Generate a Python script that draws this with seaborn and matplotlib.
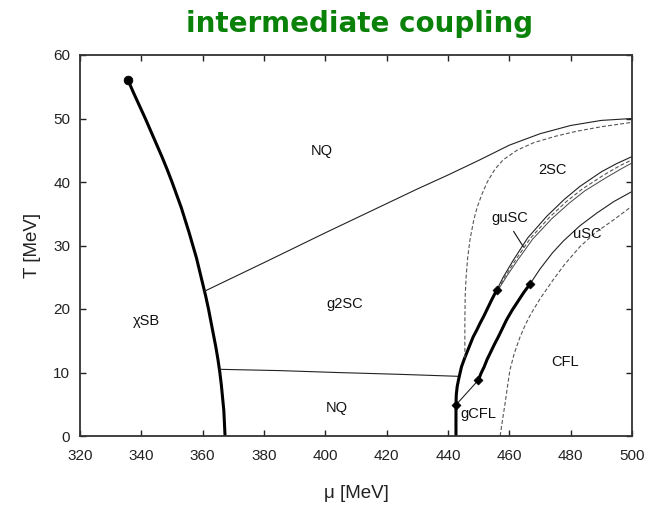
import matplotlib
matplotlib.use("Agg")
import matplotlib.pyplot as plt
import seaborn as sns
import pandas as pd

# Chiral symmetry breaking boundary (first order, ends at critical point)
chsb_mu = [335.7, 337.5, 339.4, 341.3, 343.1, 344.9, 346.7, 348.4, 350.0, 351.5,
           353.0, 354.3, 355.6, 356.8, 358.0, 359.0, 360.0, 361.0, 361.9, 362.7,
           363.5, 364.3, 365.0, 365.6, 366.1, 366.5, 366.9, 367.1, 367.3]
chsb_T = [56.0, 54.0, 52.0, 50.0, 48.0, 46.0, 44.0, 42.0, 40.0, 38.0,
          36.0, 34.0, 32.0, 30.0, 28.0, 26.0, 24.0, 22.0, 20.0, 18.0,
          16.0, 14.0, 12.0, 10.0, 8.0, 6.0, 4.0, 2.0, 0.0]

# NQ / g2SC upper boundary
nq_up_mu = [360.6, 380.0, 400.0, 420.0, 430.0, 440.0, 450.0, 460.0, 470.0, 480.0, 490.0, 500.0]
nq_up_T = [22.8, 27.3, 32.0, 36.6, 38.9, 41.1, 43.4, 45.8, 47.6, 48.9, 49.7, 50.0]

# g2SC / NQ lower boundary
nq_lo_mu = [365.6, 385.0, 403.7, 425.0, 443.3]
nq_lo_T = [10.5, 10.3, 10.0, 9.7, 9.4]

# gCFL boundary (first order part)
gcfl_a_mu = [442.6, 442.6, 442.7, 443.0, 443.5, 444.4, 445.3, 446.2, 447.2, 448.2,
             449.4, 450.5, 451.6, 452.6, 454.2, 455.9]
gcfl_a_T = [0.0, 4.9, 6.5, 7.8, 9.0, 10.9, 12.1, 13.2, 14.4, 15.6,
            16.7, 17.8, 18.8, 19.8, 21.4, 23.0]

# thin link between the two gCFL critical points
gcfl_link_mu = [442.6, 449.9]
gcfl_link_T = [4.9, 8.8]

# second first-order line
gcfl_b_mu = [449.9, 450.8, 451.8, 452.7, 453.7, 455.1, 456.5, 457.8, 459.1, 460.9,
             462.8, 464.7, 466.7]
gcfl_b_T = [8.8, 9.9, 10.9, 12.0, 13.0, 14.4, 15.7, 17.0, 18.3, 19.8,
            21.2, 22.6, 23.9]

# continuation lines (second order)
su_mu = [455.9, 458.0, 461.3, 466.0, 472.2, 478.0, 483.0, 490.0, 495.0, 500.0]
su_T = [23.0, 25.0, 27.7, 31.2, 34.6, 37.3, 39.3, 41.6, 42.9, 44.0]
sd_mu = [456.3, 458.6, 462.0, 466.8, 473.0, 478.8, 483.8, 490.8, 495.8, 500.0]
sd_T = [23.1, 25.1, 27.7, 31.1, 34.4, 37.0, 38.9, 41.1, 42.5, 43.5]
si_mu = [456.6, 459.2, 462.7, 467.6, 473.8, 479.6, 484.6, 491.6, 496.6, 500.0]
si_T = [23.2, 25.2, 27.7, 31.0, 34.2, 36.7, 38.6, 40.7, 42.1, 43.0]

usc_mu = [466.7, 470.0, 474.0, 477.6, 483.0, 488.5, 494.0, 500.0]
usc_T = [23.9, 26.3, 28.8, 30.7, 33.1, 35.1, 36.9, 38.5]

# 2SC boundary (dashed)
d2sc_mu = [445.5, 445.5, 445.6, 445.9, 446.4, 447.2, 448.4, 449.5, 451.0, 452.8,
           455.3, 458.0, 462.5, 468.0, 475.0, 482.0, 490.0, 500.0]
d2sc_T = [12.3, 18.0, 22.0, 25.0, 28.0, 31.0, 34.0, 36.0, 38.0, 40.0,
          42.0, 43.5, 45.0, 46.2, 47.2, 48.0, 48.7, 49.4]

# CFL boundary (dashed)
dcfl_mu = [457.0, 457.8, 458.6, 459.4, 460.2, 461.6, 463.5, 465.2, 467.0, 470.0,
           474.3, 478.0, 483.0, 488.0, 493.9, 500.0]
dcfl_T = [0.0, 2.6, 5.1, 7.8, 10.4, 13.0, 15.6, 17.5, 19.2, 21.6,
          24.6, 27.0, 29.8, 32.0, 34.0, 36.2]

# markers
crit_mu = [335.7]
crit_T = [56.0]
diam_mu = [442.6, 449.9, 455.9, 466.7]
diam_T = [4.9, 8.8, 23.0, 23.9]

# phase labels
phase_names = ["NQ", "2SC", "guSC", "uSC", "g2SC", "\u03c7SB", "NQ", "CFL", "gCFL"]
phase_mu = [398.9, 474.2, 460.2, 485.3, 406.4, 341.5, 403.8, 478.1, 449.8]
phase_T = [44.9, 41.9, 34.3, 31.8, 20.8, 18.1, 4.4, 11.7, 3.5]

sns.set_theme(style="ticks")
plt.rcParams["font.family"] = ["Liberation Sans", "DejaVu Sans"]

fig = plt.figure(figsize=(6.48, 5.05), dpi=100)
ax = fig.add_axes([80 / 648, 1 - 436 / 505, 552 / 648, 381 / 505])


def curve(mu, T, **kw):
    df = pd.DataFrame({"mu": mu, "T": T})
    sns.lineplot(data=df, x="mu", y="T", sort=False, estimator=None, ax=ax, **kw)


thick = dict(color="black", linewidth=2.2)
thin = dict(color="#222222", linewidth=0.8)
dash = dict(color="#555555", linewidth=0.8, dashes=(3.5, 2.0))

curve(chsb_mu, chsb_T, **thick)
curve(nq_up_mu, nq_up_T, **thin)
curve(nq_lo_mu, nq_lo_T, **thin)
curve(gcfl_a_mu, gcfl_a_T, **thick)
curve(gcfl_link_mu, gcfl_link_T, **thin)
curve(gcfl_b_mu, gcfl_b_T, **thick)
curve(su_mu, su_T, **thin)
curve(sd_mu, sd_T, **dash)
curve(si_mu, si_T, color="#444444", linewidth=0.7)
curve(usc_mu, usc_T, **thin)
curve(d2sc_mu, d2sc_T, **dash)
curve(dcfl_mu, dcfl_T, **dash)

sns.scatterplot(x=crit_mu, y=crit_T, ax=ax, color="black", s=40, marker="o",
                edgecolor="black", zorder=5)
sns.scatterplot(x=diam_mu, y=diam_T, ax=ax, color="black", s=22, marker="D",
                edgecolor="black", zorder=5)

for name, m, t in zip(phase_names, phase_mu, phase_T):
    ax.text(m, t, name, ha="center", va="center", fontsize=10.5, color="#111111")

# leader for the narrow guSC sliver
ax.annotate("", xy=(465.1, 29.4), xytext=(460.9, 32.6),
            arrowprops=dict(arrowstyle="-", color="#111111", lw=0.8))

ax.set_xlim(320, 500)
ax.set_ylim(0, 60)
ax.set_xticks(range(320, 501, 20))
ax.set_yticks(range(0, 61, 10))
ax.tick_params(direction="in", length=4, width=1, top=True, right=True,
               labelsize=11, colors="#222222")
ax.tick_params(axis="x", pad=9)
ax.tick_params(axis="y", pad=7)
for s in ax.spines.values():
    s.set_linewidth(1.3)
    s.set_color("#333333")
    s.set_visible(True)
ax.set_xlabel("\u03bc [MeV]", fontsize=13.5, color="#222222", labelpad=16)
ax.set_ylabel("T [MeV]", fontsize=13.5, color="#222222", labelpad=9)

fig.text(0.555, 0.952, "intermediate coupling", ha="center", va="center",
         fontsize=20, fontweight="bold", color="#0a820a",
         family=["DejaVu Sans"])

fig.savefig("out.png", dpi=100)
